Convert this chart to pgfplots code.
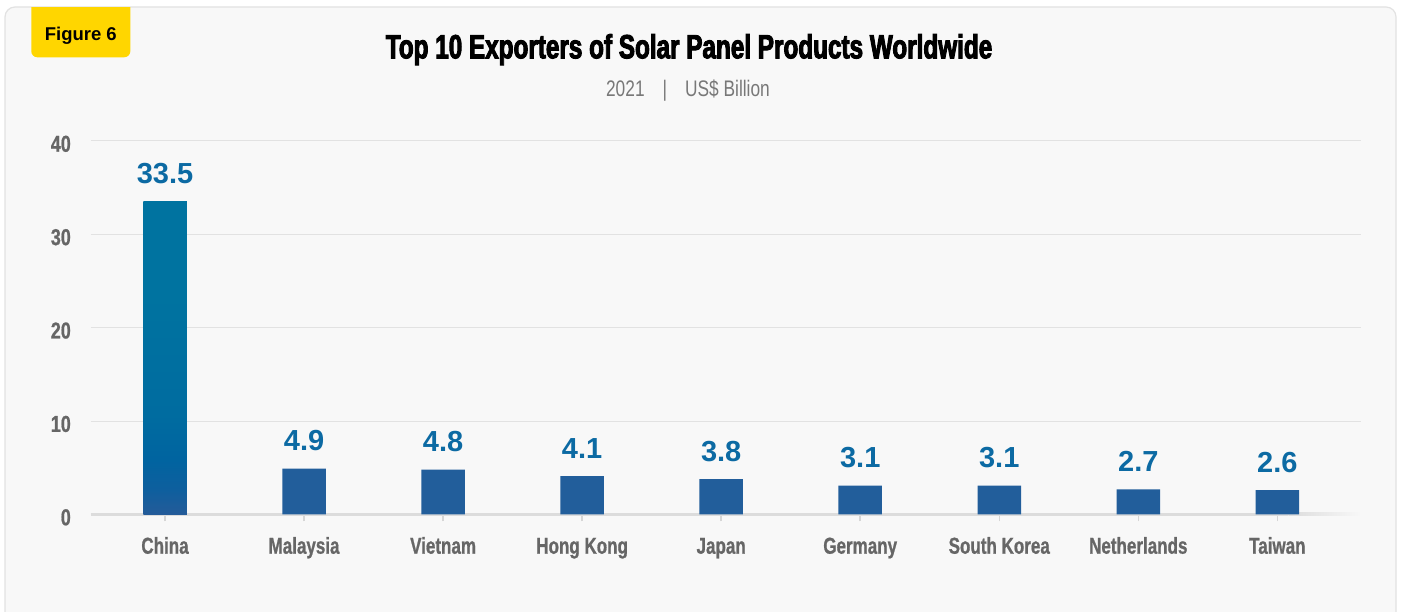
\documentclass[border=0pt]{standalone}
\usepackage{fontspec}
\usepackage{pgfplots}
\pgfplotsset{compat=1.18}
\setmainfont{Liberation Sans}
\newfontfamily\titlefont{Liberation Sans}[FakeStretch=0.725,BoldFeatures={FakeBold=2.8}]
\newfontfamily\condfont{Liberation Sans}[FakeStretch=0.74,BoldFeatures={FakeBold=0.8}]
\newfontfamily\ycondfont{Liberation Sans}[FakeStretch=0.78,BoldFeatures={FakeBold=0.8}]
\newfontfamily\subfont{Liberation Sans}[FakeStretch=0.77]
\definecolor{panelbg}{RGB}{248,248,248}
\definecolor{panelborder}{RGB}{226,226,226}
\definecolor{gridgray}{RGB}{226,226,226}
\definecolor{basegray}{RGB}{220,220,220}
\definecolor{tickgray}{RGB}{214,214,214}
\definecolor{labelgray}{RGB}{102,102,102}
\definecolor{subgray}{RGB}{120,120,120}
\definecolor{barblue}{RGB}{34,94,155}
\definecolor{valblue}{RGB}{12,106,163}
\definecolor{chinatop}{RGB}{0,115,160}
\definecolor{chinaupper}{RGB}{0,108,160}
\definecolor{chinamid}{RGB}{0,100,160}
\definecolor{chinalow}{RGB}{14,95,158}
\definecolor{chinabot}{RGB}{36,91,153}
\definecolor{badge}{RGB}{255,214,0}
\pgfdeclareverticalshading{chinashade}{100bp}{color(0bp)=(chinabot); color(25bp)=(chinabot); color(29bp)=(chinalow); color(34bp)=(chinamid); color(41bp)=(chinaupper); color(60bp)=(chinatop); color(75bp)=(chinatop); color(100bp)=(chinatop)}
\begin{document}
\begin{tikzpicture}
\useasboundingbox (0pt,0pt) rectangle (1401pt,612pt);
\clip (0pt,0pt) rectangle (1401pt,612pt);
\fill[white] (0pt,0pt) rectangle (1401pt,612pt);
\draw[fill=panelbg, draw=panelborder, line width=1.2pt, rounded corners=10pt] (5pt,-30pt) rectangle (1396pt,605pt);
\begin{scope}
\clip (0pt,0pt) rectangle (1401pt,604.4pt);
\fill[badge, rounded corners=6pt] (31.3pt,554.7pt) rectangle (130.3pt,625pt);
\end{scope}
\node[anchor=base, inner sep=0pt, font=\fontsize{18.5}{22}\selectfont\bfseries] at (80.8pt,571.3pt) {Figure 6};
\node[anchor=base, inner sep=0pt, font=\titlefont\bfseries\fontsize{33.5}{38}\selectfont] at (689pt,553.7pt) {Top 10 Exporters of Solar Panel Products Worldwide};
\node[anchor=base, inner sep=0pt, text=subgray, font=\subfont\fontsize{22.5}{26}\selectfont] at (688pt,515pt) {2021\hspace{18pt}|\hspace{18pt}US\$ Billion};
\begin{axis}[
  at={(90.5pt,97.5pt)}, anchor=south west,
  scale only axis, width=1270.5pt, height=373.5pt,
  xmin=-0.536, xmax=8.602, ymin=0, ymax=40,
  axis line style={draw=none},
  ybar, bar width=43.5pt, bar shift=0pt,
  xtick={0,...,8},
  xticklabels={China,Malaysia,Vietnam,Hong Kong,Japan,Germany,South Korea,Netherlands,Taiwan},
  ytick={0,10,20,30,40},
  xtick pos=bottom, ytick pos=left,
  ymajorgrids, grid style={draw=gridgray, line width=1pt},
  xtick align=outside,
  xtick style={draw=tickgray, line width=1.5pt},
  ytick style={draw=none},
  major tick length=7pt,
  /pgf/number format/assume math mode=true,
  xticklabel style={font=\condfont\bfseries\fontsize{23}{28}\selectfont, text=labelgray, inner sep=0pt, anchor=north, text height=17pt, text depth=5pt, yshift=-15pt},
  yticklabel style={font=\ycondfont\bfseries\fontsize{23}{26}\selectfont, text=labelgray, inner sep=0pt, anchor=east, text height=16.5pt, text depth=0pt, xshift=-19.5pt, yshift=-2.5pt},
  nodes near coords, point meta=explicit symbolic,
  nodes near coords style={font=\bfseries\fontsize{29}{32}\selectfont, text=valblue, anchor=base, inner sep=0pt, yshift=18pt},
  clip=false,
]
\draw[basegray, line width=3pt] (axis cs:-0.536,0) -- (axis cs:8.08,0);
\path[left color=basegray, right color=panelbg] ([yshift=-1.5pt]axis cs:8.08,0) rectangle ([yshift=1.5pt]axis cs:8.602,0);
\addplot[draw=none, shading=chinashade] coordinates {(0,33.5) [33.5]};
\addplot[draw=none, fill=barblue] coordinates {
(1,4.9) [4.9]
(2,4.8) [4.8]
(3,4.1) [4.1]
(4,3.8) [3.8]
(5,3.1) [3.1]
(6,3.1) [3.1]
(7,2.7) [2.7]
(8,2.6) [2.6]
};
\end{axis}
\end{tikzpicture}
\end{document}
